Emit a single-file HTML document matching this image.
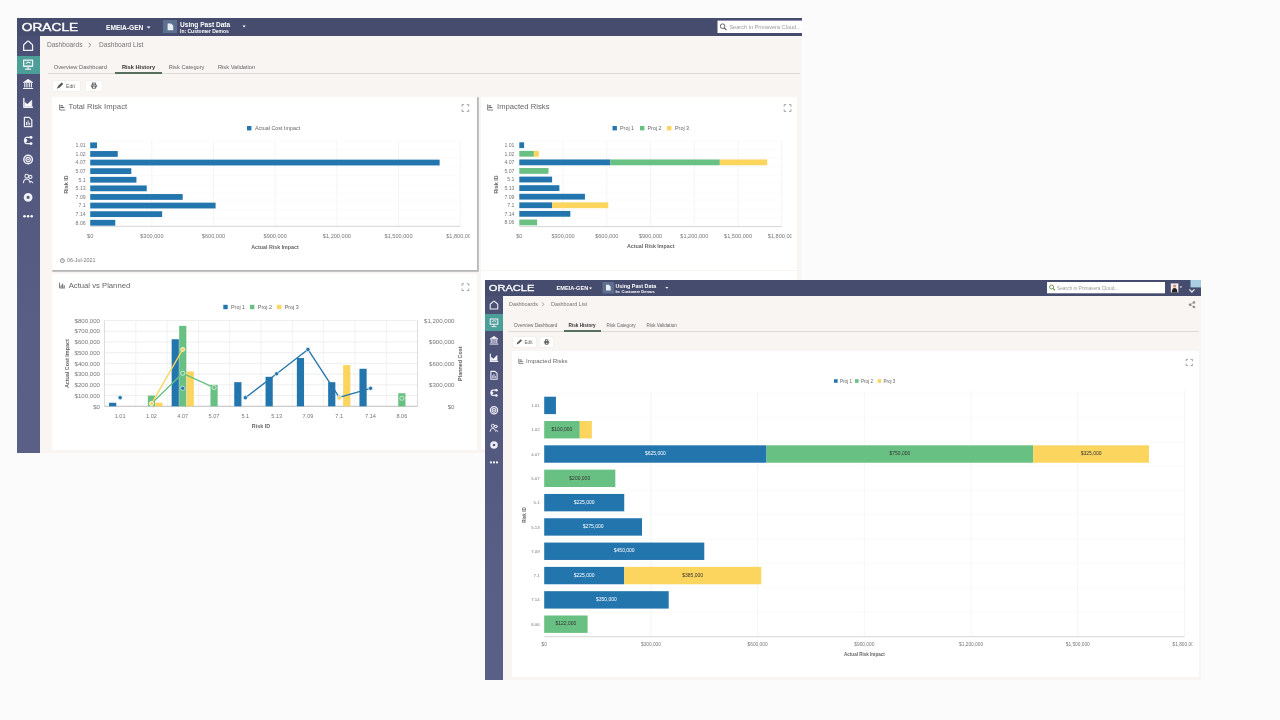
<!DOCTYPE html><html lang="en"><head><meta charset="utf-8"><title>Risk History Dashboards</title><style>
*{box-sizing:border-box;margin:0;padding:0}
html,body{width:1280px;height:720px;overflow:hidden;background:#fbfbfb;font-family:"Liberation Sans",sans-serif;}
.abs{position:absolute}
.win{position:absolute;overflow:hidden;background:#f8f5f2}
.hdr{position:absolute;left:0;top:0;right:0;background:#464c6d;color:#fff}
.side{position:absolute;left:0;bottom:0;background:linear-gradient(#4a5074,#52587d 30%,#585e84 70%,#595f85)}
.card{position:absolute;background:#fff}
.t{position:absolute;white-space:nowrap;line-height:1}
svg{position:absolute;left:0;top:0;overflow:visible}
svg text{font-family:"Liberation Sans",sans-serif}
.win>svg{filter:blur(0.35px)}
</style></head><body>
<div class="win" id="win1" style="left:17px;top:18px;width:785px;height:434.5px">
<div class="hdr" style="height:18.2px"></div>
<div class="side" style="top:18.2px;width:23px"><div class="abs" style="left:0;top:19.4px;width:23px;height:18.6px;background:#4c9f98"></div></div>
<div class="abs" style="left:31px;top:55.3px;width:752px;height:1px;background:#dedad6"></div>
<div class="abs" style="left:97.5px;top:54.4px;width:47.5px;height:2.1px;background:#56705b"></div>
<div class="abs" style="left:35.5px;top:62.6px;width:27.5px;height:10px;background:#fff;border-radius:1px;box-shadow:0 0 1px #ccc"></div>
<div class="abs" style="left:69px;top:62.6px;width:16px;height:10px;background:#fff;border-radius:1px;box-shadow:0 0 1px #ccc"></div>
<div class="card" style="left:35px;top:78.5px;width:425px;height:173px;box-shadow:1px 1px 0 0.8px #b7b7b7"></div>
<div class="card" style="left:464px;top:78.5px;width:316px;height:173.7px"></div>
<div class="card" style="left:35px;top:255.6px;width:424.5px;height:176.2px"></div>
<div class="card" style="left:464px;top:253.4px;width:316px;height:178px"></div>
<svg width="1280" height="720" viewBox="17 18 1280 720" style="left:0;top:0">
<text x="21.8" y="30.7" font-size="10.6" fill="#fff" stroke="#fff" stroke-width="0.35" textLength="56.4" lengthAdjust="spacingAndGlyphs">ORACLE</text>
<text x="106" y="29.78" font-size="6.6" fill="#fff" font-weight="bold" text-anchor="start" >EMEIA-GEN</text>
<path d="M146.6 26.4h4l-2 2.2z" fill="#fff"/>
<rect x="163" y="20" width="14" height="13" fill="#5d6f90" />
<path d="M167.6 23.4h3.4l2.2 2.2v4.6h-5.6z" fill="#e8edf3"/>
<text x="180" y="26.68" font-size="6.6" fill="#fff" font-weight="bold" text-anchor="start" >Using Past Data</text>
<text x="180" y="33" font-size="5" fill="#fff" font-weight="bold" text-anchor="start" >In: Customer Demos</text>
<path d="M242.4 25.6h3.4l-1.7 1.9z" fill="#fff"/>
<rect x="717.5" y="20.6" width="90" height="12.4" fill="#fff" />
<circle cx="722.6" cy="26.2" r="2.3" fill="none" stroke="#555" stroke-width="0.9"/><path d="M724.21 27.81L726.51 30.11" stroke="#555" stroke-width="1.1"/>
<text x="729.4" y="28.92" font-size="5.6" fill="#999" font-weight="normal" text-anchor="start" >Search in Primavera Cloud...</text>
<g transform="translate(28.1,45.7) scale(0.97)" fill="none" stroke="#f1f0f8" stroke-width="1.3" stroke-linejoin="round" stroke-linecap="round"><path d="M-4.6 -0.4 Q-4.6 -1 -4 -1.5 L-0.6 -4.5 Q0 -5 0.6 -4.5 L4 -1.5 Q4.6 -1 4.6 -0.4 V4.9 H-4.6 Z"/></g>
<g transform="translate(28.1,64.5) scale(0.97)" fill="none" stroke="#f1f0f8" stroke-width="1.3" stroke-linejoin="round" stroke-linecap="round"><rect x="-4.6" y="-4.6" width="9.2" height="6.4" /><path d="M0 1.8V4.6M-2.6 4.8H2.6M-2 -1.2L0 -2.6L2.2 -1.6" stroke-width="1.1"/></g>
<g transform="translate(28.1,84) scale(0.97)" fill="none" stroke="#f1f0f8" stroke-width="1.3" stroke-linejoin="round" stroke-linecap="round"><path d="M-4.6 -1.8L0 -4.8L4.6 -1.8Z" fill="#fff" stroke-width="0.8"/><path d="M-3.4 -0.6V3M-1.2 -0.6V3M1.2 -0.6V3M3.4 -0.6V3" stroke-width="1.2"/><path d="M-4.8 4.6H4.8" stroke-width="1.2"/></g>
<g transform="translate(28.1,103) scale(0.97)" fill="none" stroke="#f1f0f8" stroke-width="1.3" stroke-linejoin="round" stroke-linecap="round"><path d="M-4.4 -4.6V4.4H4.6" stroke-width="1.4"/><path d="M-3.4 3.4V-0.6L-0.6 1.4L3.8 -3V3.4Z" fill="#fff" stroke-width="0.6"/></g>
<g transform="translate(28.1,122) scale(0.97)" fill="none" stroke="#f1f0f8" stroke-width="1.3" stroke-linejoin="round" stroke-linecap="round"><path d="M-3.8 -4.8H1.2L3.8 -2.2V4.8H-3.8Z"/><path d="M-1.6 3V0.4M0 3V-1.2M1.6 3V1.2" stroke-width="1"/></g>
<g transform="translate(28.1,140.5) scale(0.97)" fill="none" stroke="#f1f0f8" stroke-width="1.3" stroke-linejoin="round" stroke-linecap="round"><circle cx="-2.6" cy="0" r="1.7" fill="#fff" stroke="none"/><circle cx="3" cy="-3.2" r="1.5" fill="#fff" stroke="none"/><circle cx="3" cy="3.2" r="1.5" fill="#fff" stroke="none"/><path d="M3 -3.2H-1.4Q-3.6 -3.2 -3.6 0Q-3.6 3.2 -1.4 3.2H3" stroke-width="1.4"/></g>
<g transform="translate(28.1,159.5) scale(0.97)" fill="none" stroke="#f1f0f8" stroke-width="1.3" stroke-linejoin="round" stroke-linecap="round"><circle r="4.4" stroke-width="1.5"/><circle r="2.3" stroke-width="1.3"/><circle r="0.9" fill="#fff" stroke="none"/></g>
<g transform="translate(28.1,178.5) scale(0.97)" fill="none" stroke="#f1f0f8" stroke-width="1.3" stroke-linejoin="round" stroke-linecap="round"><circle cx="-1.4" cy="-2.4" r="1.9" stroke-width="1.1"/><circle cx="2.4" cy="-1.6" r="1.6" stroke-width="1.1"/><path d="M-4.8 4.4Q-4.4 0.6 -1.4 0.6Q1 0.6 1.6 3.2M2 4.4Q2.4 1.2 4.8 4.4" stroke-width="1.1"/></g>
<g transform="translate(28.1,197.3) scale(0.97)" fill="none" stroke="#f1f0f8" stroke-width="1.3" stroke-linejoin="round" stroke-linecap="round"><circle r="3.1" stroke-width="2.9"/></g>
<g transform="translate(28.1,216.3) scale(0.97)" fill="none" stroke="#f1f0f8" stroke-width="1.3" stroke-linejoin="round" stroke-linecap="round"><circle cx="-3.7" r="1.3" fill="#fff" stroke="none"/><circle r="1.3" fill="#fff" stroke="none"/><circle cx="3.7" r="1.3" fill="#fff" stroke="none"/></g>
<text x="46.9" y="47.38" font-size="6.6" fill="#777" font-weight="normal" text-anchor="start" >Dashboards</text>
<path d="M88.6 42.8l2.2 2.2l-2.2 2.2" fill="none" stroke="#777" stroke-width="0.8"/>
<text x="99" y="47.38" font-size="6.6" fill="#777" font-weight="normal" text-anchor="start" >Dashboard List</text>
<text x="53.75" y="69.35" font-size="5.7" fill="#666" font-weight="normal" text-anchor="start" >Overview Dashboard</text>
<text x="121.9" y="69.35" font-size="5.7" fill="#333" font-weight="bold" text-anchor="start" >Risk History</text>
<text x="168.75" y="69.35" font-size="5.7" fill="#666" font-weight="normal" text-anchor="start" >Risk Category</text>
<text x="218" y="69.35" font-size="5.7" fill="#666" font-weight="normal" text-anchor="start" >Risk Validation</text>
<path d="M56.8 88.8L58.08 85.92L61.6 82.4L63.2 84L59.68 87.52Z" fill="#555"/>
<text x="66" y="87.67" font-size="5.2" fill="#666" font-weight="normal" text-anchor="start" >Edit</text>
<rect x="91.4" y="84.69" width="5.2" height="2.6" rx="0.8" fill="none" stroke="#555" stroke-width="0.9"/><rect x="92.57" y="83" width="2.86" height="1.82" fill="#fff" stroke="#555" stroke-width="0.8"/><rect x="92.57" y="86.12" width="2.86" height="2.08" fill="#fff" stroke="#555" stroke-width="0.8"/>
<path d="M59.6 104.4V110H65.2" fill="none" stroke="#666" stroke-width="0.8"/><rect x="60.4" y="105.24" width="2.52" height="1.12" fill="#666" /><rect x="60.4" y="106.92" width="3.92" height="1.12" fill="#666" />
<text x="68.6" y="108.77" font-size="7.7" fill="#666" font-weight="normal" text-anchor="start" >Total Risk Impact</text>
<path d="M462 106.64V104.6H464.04 M466.76 104.6H468.8V106.64 M468.8 109.36V111.4H466.76 M464.04 111.4H462V109.36" fill="none" stroke="#999" stroke-width="0.9"/>
<rect x="247" y="126" width="4.4" height="4.4" fill="#2375ae" />
<text x="255" y="130.14" font-size="5.4" fill="#666" font-weight="normal" text-anchor="start" >Actual Cost Impact</text>
<line x1="90.2" y1="141.05" x2="460.2" y2="141.05" stroke="#f8f8f8" stroke-width="0.6" />
<line x1="90.2" y1="149.65" x2="460.2" y2="149.65" stroke="#f8f8f8" stroke-width="0.6" />
<line x1="90.2" y1="158.25" x2="460.2" y2="158.25" stroke="#f8f8f8" stroke-width="0.6" />
<line x1="90.2" y1="166.85" x2="460.2" y2="166.85" stroke="#f8f8f8" stroke-width="0.6" />
<line x1="90.2" y1="175.45" x2="460.2" y2="175.45" stroke="#f8f8f8" stroke-width="0.6" />
<line x1="90.2" y1="184.05" x2="460.2" y2="184.05" stroke="#f8f8f8" stroke-width="0.6" />
<line x1="90.2" y1="192.65" x2="460.2" y2="192.65" stroke="#f8f8f8" stroke-width="0.6" />
<line x1="90.2" y1="201.25" x2="460.2" y2="201.25" stroke="#f8f8f8" stroke-width="0.6" />
<line x1="90.2" y1="209.85" x2="460.2" y2="209.85" stroke="#f8f8f8" stroke-width="0.6" />
<line x1="90.2" y1="218.45" x2="460.2" y2="218.45" stroke="#f8f8f8" stroke-width="0.6" />
<line x1="151.87" y1="141.05" x2="151.87" y2="226.3" stroke="#f0f0f0" stroke-width="0.7" />
<line x1="213.53" y1="141.05" x2="213.53" y2="226.3" stroke="#f0f0f0" stroke-width="0.7" />
<line x1="275.2" y1="141.05" x2="275.2" y2="226.3" stroke="#f0f0f0" stroke-width="0.7" />
<line x1="336.87" y1="141.05" x2="336.87" y2="226.3" stroke="#f0f0f0" stroke-width="0.7" />
<line x1="398.53" y1="141.05" x2="398.53" y2="226.3" stroke="#f0f0f0" stroke-width="0.7" />
<line x1="460.2" y1="141.05" x2="460.2" y2="226.3" stroke="#f0f0f0" stroke-width="0.7" />
<line x1="90.2" y1="226.3" x2="460.2" y2="226.3" stroke="#c9c9c9" stroke-width="0.8" />
<rect x="90.2" y="142.45" width="6.78" height="5.8" fill="#2375ae" />
<text x="85.7" y="147.22" font-size="5.2" fill="#777" font-weight="normal" text-anchor="end" >1.01</text>
<rect x="90.2" y="151.05" width="27.54" height="5.8" fill="#2375ae" />
<text x="85.7" y="155.82" font-size="5.2" fill="#777" font-weight="normal" text-anchor="end" >1.02</text>
<rect x="90.2" y="159.65" width="349.44" height="5.8" fill="#2375ae" />
<text x="85.7" y="164.42" font-size="5.2" fill="#777" font-weight="normal" text-anchor="end" >4.07</text>
<rect x="90.2" y="168.25" width="41.11" height="5.8" fill="#2375ae" />
<text x="85.7" y="173.02" font-size="5.2" fill="#777" font-weight="normal" text-anchor="end" >5.07</text>
<rect x="90.2" y="176.85" width="46.25" height="5.8" fill="#2375ae" />
<text x="85.7" y="181.62" font-size="5.2" fill="#777" font-weight="normal" text-anchor="end" >5.1</text>
<rect x="90.2" y="185.45" width="56.53" height="5.8" fill="#2375ae" />
<text x="85.7" y="190.22" font-size="5.2" fill="#777" font-weight="normal" text-anchor="end" >5.13</text>
<rect x="90.2" y="194.05" width="92.5" height="5.8" fill="#2375ae" />
<text x="85.7" y="198.82" font-size="5.2" fill="#777" font-weight="normal" text-anchor="end" >7.09</text>
<rect x="90.2" y="202.65" width="125.39" height="5.8" fill="#2375ae" />
<text x="85.7" y="207.42" font-size="5.2" fill="#777" font-weight="normal" text-anchor="end" >7.1</text>
<rect x="90.2" y="211.25" width="71.94" height="5.8" fill="#2375ae" />
<text x="85.7" y="216.02" font-size="5.2" fill="#777" font-weight="normal" text-anchor="end" >7.14</text>
<rect x="90.2" y="219.85" width="25.08" height="5.8" fill="#2375ae" />
<text x="85.7" y="224.62" font-size="5.2" fill="#777" font-weight="normal" text-anchor="end" >8.06</text>
<clipPath id="c90"><rect x="0" y="0" width="470.2" height="720"/></clipPath>
<g clip-path="url(#c90)">
<text x="90.2" y="238.32" font-size="5.6" fill="#777" font-weight="normal" text-anchor="middle" >$0</text>
<text x="151.87" y="238.32" font-size="5.6" fill="#777" font-weight="normal" text-anchor="middle" >$300,000</text>
<text x="213.53" y="238.32" font-size="5.6" fill="#777" font-weight="normal" text-anchor="middle" >$600,000</text>
<text x="275.2" y="238.32" font-size="5.6" fill="#777" font-weight="normal" text-anchor="middle" >$900,000</text>
<text x="336.87" y="238.32" font-size="5.6" fill="#777" font-weight="normal" text-anchor="middle" >$1,200,000</text>
<text x="398.53" y="238.32" font-size="5.6" fill="#777" font-weight="normal" text-anchor="middle" >$1,500,000</text>
<text x="460.2" y="238.32" font-size="5.6" fill="#777" font-weight="normal" text-anchor="middle" >$1,800,000</text>
</g>
<text x="275" y="248.52" font-size="5.32" fill="#666" font-weight="bold" text-anchor="middle" >Actual Risk Impact</text>
<text transform="translate(66,184.5) rotate(-90)" y="1.92" font-size="5.32" fill="#666" font-weight="bold" text-anchor="middle">Risk ID</text>
<circle cx="62.4" cy="260.6" r="2" fill="none" stroke="#666" stroke-width="0.7"/><path d="M62.4 259.4v1.3h1" fill="none" stroke="#666" stroke-width="0.5"/>
<text x="67" y="261.94" font-size="5.4" fill="#777" font-weight="normal" text-anchor="start" >06-Jul-2021</text>
<path d="M487.6 104.4V110H493.2" fill="none" stroke="#666" stroke-width="0.8"/><rect x="488.4" y="105.24" width="2.52" height="1.12" fill="#666" /><rect x="488.4" y="106.92" width="3.92" height="1.12" fill="#666" />
<text x="497" y="108.97" font-size="7.7" fill="#666" font-weight="normal" text-anchor="start" >Impacted Risks</text>
<path d="M784.2 106.64V104.6H786.24 M788.96 104.6H791V106.64 M791 109.36V111.4H788.96 M786.24 111.4H784.2V109.36" fill="none" stroke="#999" stroke-width="0.9"/>
<rect x="612.5" y="126" width="4.4" height="4.4" fill="#2375ae" />
<text x="620" y="130.14" font-size="5.4" fill="#666" font-weight="normal" text-anchor="start" >Proj 1</text>
<rect x="640" y="126" width="4.4" height="4.4" fill="#69c083" />
<text x="647.5" y="130.14" font-size="5.4" fill="#666" font-weight="normal" text-anchor="start" >Proj 2</text>
<rect x="667" y="126" width="4.4" height="4.4" fill="#fbd55d" />
<text x="675" y="130.14" font-size="5.4" fill="#666" font-weight="normal" text-anchor="start" >Proj 3</text>
<line x1="519.3" y1="140.91" x2="781.8" y2="140.91" stroke="#f8f8f8" stroke-width="0.6" />
<line x1="519.3" y1="149.49" x2="781.8" y2="149.49" stroke="#f8f8f8" stroke-width="0.6" />
<line x1="519.3" y1="158.07" x2="781.8" y2="158.07" stroke="#f8f8f8" stroke-width="0.6" />
<line x1="519.3" y1="166.65" x2="781.8" y2="166.65" stroke="#f8f8f8" stroke-width="0.6" />
<line x1="519.3" y1="175.23" x2="781.8" y2="175.23" stroke="#f8f8f8" stroke-width="0.6" />
<line x1="519.3" y1="183.81" x2="781.8" y2="183.81" stroke="#f8f8f8" stroke-width="0.6" />
<line x1="519.3" y1="192.39" x2="781.8" y2="192.39" stroke="#f8f8f8" stroke-width="0.6" />
<line x1="519.3" y1="200.97" x2="781.8" y2="200.97" stroke="#f8f8f8" stroke-width="0.6" />
<line x1="519.3" y1="209.55" x2="781.8" y2="209.55" stroke="#f8f8f8" stroke-width="0.6" />
<line x1="519.3" y1="218.13" x2="781.8" y2="218.13" stroke="#f8f8f8" stroke-width="0.6" />
<line x1="563.05" y1="140.91" x2="563.05" y2="226.6" stroke="#f0f0f0" stroke-width="0.7" />
<line x1="606.8" y1="140.91" x2="606.8" y2="226.6" stroke="#f0f0f0" stroke-width="0.7" />
<line x1="650.55" y1="140.91" x2="650.55" y2="226.6" stroke="#f0f0f0" stroke-width="0.7" />
<line x1="694.3" y1="140.91" x2="694.3" y2="226.6" stroke="#f0f0f0" stroke-width="0.7" />
<line x1="738.05" y1="140.91" x2="738.05" y2="226.6" stroke="#f0f0f0" stroke-width="0.7" />
<line x1="781.8" y1="140.91" x2="781.8" y2="226.6" stroke="#f0f0f0" stroke-width="0.7" />
<line x1="519.3" y1="226.6" x2="781.8" y2="226.6" stroke="#c9c9c9" stroke-width="0.8" />
<rect x="519.3" y="142.3" width="4.81" height="5.8" fill="#2375ae" />
<text x="514.5" y="147.07" font-size="5.2" fill="#777" font-weight="normal" text-anchor="end" >1.01</text>
<rect x="519.3" y="150.88" width="14.58" height="5.8" fill="#69c083" />
<rect x="533.88" y="150.88" width="4.96" height="5.8" fill="#fbd55d" />
<text x="514.5" y="155.65" font-size="5.2" fill="#777" font-weight="normal" text-anchor="end" >1.02</text>
<rect x="519.3" y="159.46" width="91.15" height="5.8" fill="#2375ae" />
<rect x="610.45" y="159.46" width="109.38" height="5.8" fill="#69c083" />
<rect x="719.82" y="159.46" width="47.4" height="5.8" fill="#fbd55d" />
<text x="514.5" y="164.23" font-size="5.2" fill="#777" font-weight="normal" text-anchor="end" >4.07</text>
<rect x="519.3" y="168.04" width="29.17" height="5.8" fill="#69c083" />
<text x="514.5" y="172.81" font-size="5.2" fill="#777" font-weight="normal" text-anchor="end" >5.07</text>
<rect x="519.3" y="176.62" width="32.81" height="5.8" fill="#2375ae" />
<text x="514.5" y="181.39" font-size="5.2" fill="#777" font-weight="normal" text-anchor="end" >5.1</text>
<rect x="519.3" y="185.2" width="40.1" height="5.8" fill="#2375ae" />
<text x="514.5" y="189.97" font-size="5.2" fill="#777" font-weight="normal" text-anchor="end" >5.13</text>
<rect x="519.3" y="193.78" width="65.62" height="5.8" fill="#2375ae" />
<text x="514.5" y="198.55" font-size="5.2" fill="#777" font-weight="normal" text-anchor="end" >7.09</text>
<rect x="519.3" y="202.36" width="32.81" height="5.8" fill="#2375ae" />
<rect x="552.11" y="202.36" width="56.15" height="5.8" fill="#fbd55d" />
<text x="514.5" y="207.13" font-size="5.2" fill="#777" font-weight="normal" text-anchor="end" >7.1</text>
<rect x="519.3" y="210.94" width="51.04" height="5.8" fill="#2375ae" />
<text x="514.5" y="215.71" font-size="5.2" fill="#777" font-weight="normal" text-anchor="end" >7.14</text>
<rect x="519.3" y="219.52" width="17.79" height="5.8" fill="#69c083" />
<text x="514.5" y="224.29" font-size="5.2" fill="#777" font-weight="normal" text-anchor="end" >8.06</text>
<clipPath id="c519"><rect x="0" y="0" width="791.5" height="720"/></clipPath>
<g clip-path="url(#c519)">
<text x="519.3" y="237.82" font-size="5.6" fill="#777" font-weight="normal" text-anchor="middle" >$0</text>
<text x="563.05" y="237.82" font-size="5.6" fill="#777" font-weight="normal" text-anchor="middle" >$300,000</text>
<text x="606.8" y="237.82" font-size="5.6" fill="#777" font-weight="normal" text-anchor="middle" >$600,000</text>
<text x="650.55" y="237.82" font-size="5.6" fill="#777" font-weight="normal" text-anchor="middle" >$900,000</text>
<text x="694.3" y="237.82" font-size="5.6" fill="#777" font-weight="normal" text-anchor="middle" >$1,200,000</text>
<text x="738.05" y="237.82" font-size="5.6" fill="#777" font-weight="normal" text-anchor="middle" >$1,500,000</text>
<text x="781.8" y="237.82" font-size="5.6" fill="#777" font-weight="normal" text-anchor="middle" >$1,800,000</text>
</g>
<text x="650.7" y="248.42" font-size="5.32" fill="#666" font-weight="bold" text-anchor="middle" >Actual Risk Impact</text>
<text transform="translate(496,184.5) rotate(-90)" y="1.92" font-size="5.32" fill="#666" font-weight="bold" text-anchor="middle">Risk ID</text>
<path d="M59.5 282.5V288H65" fill="none" stroke="#666" stroke-width="0.8"/><rect x="60.6" y="284.98" width="0.99" height="2.75" fill="#666" /><rect x="62.14" y="283.6" width="0.99" height="4.12" fill="#666" /><rect x="63.68" y="285.25" width="0.99" height="2.48" fill="#666" />
<text x="68.7" y="288.37" font-size="7.7" fill="#666" font-weight="normal" text-anchor="start" >Actual vs Planned</text>
<path d="M462 285.84V283.8H464.04 M466.76 283.8H468.8V285.84 M468.8 288.56V290.6H466.76 M464.04 290.6H462V288.56" fill="none" stroke="#999" stroke-width="0.9"/>
<rect x="223.3" y="304.8" width="4.4" height="4.4" fill="#2375ae" />
<text x="231" y="308.94" font-size="5.4" fill="#666" font-weight="normal" text-anchor="start" >Proj 1</text>
<rect x="250" y="304.8" width="4.4" height="4.4" fill="#69c083" />
<text x="257.8" y="308.94" font-size="5.4" fill="#666" font-weight="normal" text-anchor="start" >Proj 2</text>
<rect x="277" y="304.8" width="4.4" height="4.4" fill="#fbd55d" />
<text x="284.7" y="308.94" font-size="5.4" fill="#666" font-weight="normal" text-anchor="start" >Proj 3</text>
<line x1="104.5" y1="406.3" x2="417.5" y2="406.3" stroke="#e6e6e6" stroke-width="0.7" />
<text x="100" y="408.5" font-size="6.1" fill="#777" font-weight="normal" text-anchor="end" >$0</text>
<line x1="104.5" y1="395.57" x2="417.5" y2="395.57" stroke="#e6e6e6" stroke-width="0.7" />
<text x="100" y="397.77" font-size="6.1" fill="#777" font-weight="normal" text-anchor="end" >$100,000</text>
<line x1="104.5" y1="384.85" x2="417.5" y2="384.85" stroke="#e6e6e6" stroke-width="0.7" />
<text x="100" y="387.05" font-size="6.1" fill="#777" font-weight="normal" text-anchor="end" >$200,000</text>
<line x1="104.5" y1="374.12" x2="417.5" y2="374.12" stroke="#e6e6e6" stroke-width="0.7" />
<text x="100" y="376.32" font-size="6.1" fill="#777" font-weight="normal" text-anchor="end" >$300,000</text>
<line x1="104.5" y1="363.4" x2="417.5" y2="363.4" stroke="#e6e6e6" stroke-width="0.7" />
<text x="100" y="365.6" font-size="6.1" fill="#777" font-weight="normal" text-anchor="end" >$400,000</text>
<line x1="104.5" y1="352.68" x2="417.5" y2="352.68" stroke="#e6e6e6" stroke-width="0.7" />
<text x="100" y="354.87" font-size="6.1" fill="#777" font-weight="normal" text-anchor="end" >$500,000</text>
<line x1="104.5" y1="341.95" x2="417.5" y2="341.95" stroke="#e6e6e6" stroke-width="0.7" />
<text x="100" y="344.15" font-size="6.1" fill="#777" font-weight="normal" text-anchor="end" >$600,000</text>
<line x1="104.5" y1="331.23" x2="417.5" y2="331.23" stroke="#e6e6e6" stroke-width="0.7" />
<text x="100" y="333.42" font-size="6.1" fill="#777" font-weight="normal" text-anchor="end" >$700,000</text>
<line x1="104.5" y1="320.5" x2="417.5" y2="320.5" stroke="#e6e6e6" stroke-width="0.7" />
<text x="100" y="322.7" font-size="6.1" fill="#777" font-weight="normal" text-anchor="end" >$800,000</text>
<text x="454.5" y="408.5" font-size="6.1" fill="#777" font-weight="normal" text-anchor="end" >$0</text>
<text x="454.5" y="387.05" font-size="6.1" fill="#777" font-weight="normal" text-anchor="end" >$300,000</text>
<text x="454.5" y="365.6" font-size="6.1" fill="#777" font-weight="normal" text-anchor="end" >$600,000</text>
<text x="454.5" y="344.15" font-size="6.1" fill="#777" font-weight="normal" text-anchor="end" >$900,000</text>
<text x="454.5" y="322.7" font-size="6.1" fill="#777" font-weight="normal" text-anchor="end" >$1,200,000</text>
<line x1="104.5" y1="320.5" x2="104.5" y2="406.3" stroke="#cfcfcf" stroke-width="0.7" />
<line x1="135.8" y1="320.5" x2="135.8" y2="406.3" stroke="#ececec" stroke-width="0.7" />
<line x1="167.1" y1="320.5" x2="167.1" y2="406.3" stroke="#ececec" stroke-width="0.7" />
<line x1="198.4" y1="320.5" x2="198.4" y2="406.3" stroke="#ececec" stroke-width="0.7" />
<line x1="229.7" y1="320.5" x2="229.7" y2="406.3" stroke="#ececec" stroke-width="0.7" />
<line x1="261" y1="320.5" x2="261" y2="406.3" stroke="#ececec" stroke-width="0.7" />
<line x1="292.3" y1="320.5" x2="292.3" y2="406.3" stroke="#ececec" stroke-width="0.7" />
<line x1="323.6" y1="320.5" x2="323.6" y2="406.3" stroke="#ececec" stroke-width="0.7" />
<line x1="354.9" y1="320.5" x2="354.9" y2="406.3" stroke="#ececec" stroke-width="0.7" />
<line x1="386.2" y1="320.5" x2="386.2" y2="406.3" stroke="#ececec" stroke-width="0.7" />
<line x1="417.5" y1="320.5" x2="417.5" y2="406.3" stroke="#cfcfcf" stroke-width="0.7" />
<line x1="104.5" y1="406.3" x2="417.5" y2="406.3" stroke="#bdbdbd" stroke-width="0.9" />
<rect x="109.05" y="402.76" width="7.2" height="3.54" fill="#2375ae" />
<text x="120.15" y="417.52" font-size="5.6" fill="#777" font-weight="normal" text-anchor="middle" >1.01</text>
<rect x="147.85" y="395.57" width="7.2" height="10.73" fill="#69c083" />
<rect x="155.35" y="402.65" width="7.2" height="3.65" fill="#fbd55d" />
<text x="151.45" y="417.52" font-size="5.6" fill="#777" font-weight="normal" text-anchor="middle" >1.02</text>
<rect x="171.65" y="339.27" width="7.2" height="67.03" fill="#2375ae" />
<rect x="179.15" y="325.86" width="7.2" height="80.44" fill="#69c083" />
<rect x="186.65" y="371.44" width="7.2" height="34.86" fill="#fbd55d" />
<text x="182.75" y="417.52" font-size="5.6" fill="#777" font-weight="normal" text-anchor="middle" >4.07</text>
<rect x="210.45" y="384.85" width="7.2" height="21.45" fill="#69c083" />
<text x="214.05" y="417.52" font-size="5.6" fill="#777" font-weight="normal" text-anchor="middle" >5.07</text>
<rect x="234.25" y="382.17" width="7.2" height="24.13" fill="#2375ae" />
<text x="245.35" y="417.52" font-size="5.6" fill="#777" font-weight="normal" text-anchor="middle" >5.1</text>
<rect x="265.55" y="376.81" width="7.2" height="29.49" fill="#2375ae" />
<text x="276.65" y="417.52" font-size="5.6" fill="#777" font-weight="normal" text-anchor="middle" >5.13</text>
<rect x="296.85" y="358.04" width="7.2" height="48.26" fill="#2375ae" />
<text x="307.95" y="417.52" font-size="5.6" fill="#777" font-weight="normal" text-anchor="middle" >7.09</text>
<rect x="328.15" y="382.17" width="7.2" height="24.13" fill="#2375ae" />
<rect x="343.15" y="365.01" width="7.2" height="41.29" fill="#fbd55d" />
<text x="339.25" y="417.52" font-size="5.6" fill="#777" font-weight="normal" text-anchor="middle" >7.1</text>
<rect x="359.45" y="368.76" width="7.2" height="37.54" fill="#2375ae" />
<text x="370.55" y="417.52" font-size="5.6" fill="#777" font-weight="normal" text-anchor="middle" >7.14</text>
<rect x="398.25" y="393.22" width="7.2" height="13.08" fill="#69c083" />
<text x="401.85" y="417.52" font-size="5.6" fill="#777" font-weight="normal" text-anchor="middle" >8.06</text>
<polyline points="151.45,403.44 182.75,373.27 214.05,387.57" fill="none" stroke="#69c083" stroke-width="1.35" stroke-linejoin="round"/>
<polyline points="151.45,403.8 182.75,349.46" fill="none" stroke="#fbd55d" stroke-width="1.35" stroke-linejoin="round"/>
<polyline points="245.35,397.72 276.65,373.77 307.95,349.46 339.25,397.36 370.55,388.28" fill="none" stroke="#2375ae" stroke-width="1.35" stroke-linejoin="round"/>
<circle cx="120.15" cy="397.72" r="2.1" fill="#2375ae" stroke="#fff" stroke-width="0.6"/><circle cx="182.75" cy="388.28" r="2.1" fill="#2375ae" stroke="#fff" stroke-width="0.6"/><circle cx="245.35" cy="397.72" r="2.1" fill="#2375ae" stroke="#fff" stroke-width="0.6"/><circle cx="276.65" cy="373.77" r="2.1" fill="#2375ae" stroke="#fff" stroke-width="0.6"/><circle cx="307.95" cy="349.46" r="2.1" fill="#2375ae" stroke="#fff" stroke-width="0.6"/><circle cx="339.25" cy="397.36" r="2.1" fill="#2375ae" stroke="#fff" stroke-width="0.6"/><circle cx="370.55" cy="388.28" r="2.1" fill="#2375ae" stroke="#fff" stroke-width="0.6"/>
<circle cx="151.45" cy="403.44" r="2.1" fill="#69c083" stroke="#fff" stroke-width="0.6"/><circle cx="182.75" cy="373.27" r="2.1" fill="#69c083" stroke="#fff" stroke-width="0.6"/><circle cx="214.05" cy="387.57" r="2.1" fill="#69c083" stroke="#fff" stroke-width="0.6"/><circle cx="401.85" cy="398.29" r="2.1" fill="#69c083" stroke="#fff" stroke-width="0.6"/>
<circle cx="151.45" cy="403.8" r="2.1" fill="#fbd55d" stroke="#fff" stroke-width="0.6"/><circle cx="182.75" cy="349.46" r="2.1" fill="#fbd55d" stroke="#fff" stroke-width="0.6"/><circle cx="339.25" cy="398.08" r="2.1" fill="#fbd55d" stroke="#fff" stroke-width="0.6"/>
<text x="261" y="427.74" font-size="5.4" fill="#666" font-weight="bold" text-anchor="middle" >Risk ID</text>
<text transform="translate(67,363.7) rotate(-90)" y="1.94" font-size="5.4" fill="#666" font-weight="bold" text-anchor="middle">Actual Cost Impact</text>
<text transform="translate(460.5,363.7) rotate(-90)" y="1.94" font-size="5.4" fill="#666" font-weight="bold" text-anchor="middle">Planned Cost</text>
</svg>
</div>
<div class="win" id="win2" style="left:485px;top:280px;width:716px;height:399.5px">
<div class="hdr" style="height:16.4px"></div>
<div class="side" style="top:16.2px;width:18px"><div class="abs" style="left:0;top:18.2px;width:18px;height:16.8px;background:#4c9f98"></div></div>
<div class="abs" style="left:23px;top:51.4px;width:691px;height:1px;background:#dedad6"></div>
<div class="abs" style="left:78.5px;top:50.3px;width:37.5px;height:2.1px;background:#56705b"></div>
<div class="abs" style="left:27.8px;top:56.8px;width:23.4px;height:10.2px;background:#fff;border-radius:1px;box-shadow:0 0 1px #ccc"></div>
<div class="abs" style="left:55px;top:56.8px;width:13.4px;height:10.2px;background:#fff;border-radius:1px;box-shadow:0 0 1px #ccc"></div>
<div class="card" style="left:27px;top:70.8px;width:687px;height:326px"></div>
<svg width="1280" height="720" viewBox="485 280 1280 720" style="left:0;top:0">
<text x="488.8" y="291.3" font-size="9.4" fill="#fff" stroke="#fff" stroke-width="0.3" textLength="45.6" lengthAdjust="spacingAndGlyphs">ORACLE</text>
<text x="556.5" y="290.32" font-size="5.6" fill="#fff" font-weight="bold" text-anchor="start" >EMEIA-GEN</text>
<path d="M589 287.4h3.2l-1.6 1.8z" fill="#fff"/>
<rect x="602.5" y="282" width="11.5" height="11.5" fill="#5d6f90" />
<path d="M606 284.8h2.8l1.9 1.9v3.9h-4.7z" fill="#e8edf3"/>
<text x="615.5" y="287.53" font-size="5.35" fill="#fff" font-weight="bold" text-anchor="start" >Using Past Data</text>
<text x="615.5" y="292.94" font-size="4" fill="#fff" font-weight="bold" text-anchor="start" >In: Customer Demos</text>
<path d="M665.4 287h3l-1.5 1.7z" fill="#fff"/>
<rect x="1047" y="282" width="118" height="11.3" fill="#fff" />
<circle cx="1051.6" cy="287" r="2" fill="none" stroke="#6a8a4a" stroke-width="0.9"/><path d="M1053 288.4L1055 290.4" stroke="#6a8a4a" stroke-width="1.1"/>
<text x="1057" y="289.53" font-size="4.8" fill="#999" font-weight="normal" text-anchor="start" >Search in Primavera Cloud...</text>
<rect x="1170.8" y="283.4" width="7.6" height="9.1" fill="#f3ece8" />
<circle cx="1174.6" cy="286" r="1.5" fill="#c98f7d"/><path d="M1171.8 292.5q0.2 -4.4 2.8 -4.4q2.6 0 2.8 4.4z" fill="#222"/>
<path d="M1179.6 286.6h2.6l-1.3 1.5z" fill="#fff"/>
<rect x="1190.5" y="280" width="10.5" height="7.4" fill="#a9cde2" />
<path d="M1189.3 289.4l2.6 2.6l2.6 -2.6" fill="none" stroke="#e6e6ee" stroke-width="1.3"/>
<g fill="#888" stroke="#888" stroke-width="0.6"><circle cx="1194" cy="302.4" r="1"/><circle cx="1190" cy="304.7" r="1"/><circle cx="1194" cy="307" r="1"/><path d="M1194 302.4L1190 304.7L1194 307" fill="none"/></g>
<g transform="translate(494,305) scale(0.82)" fill="none" stroke="#f1f0f8" stroke-width="1.3" stroke-linejoin="round" stroke-linecap="round"><path d="M-4.6 -0.4 Q-4.6 -1 -4 -1.5 L-0.6 -4.5 Q0 -5 0.6 -4.5 L4 -1.5 Q4.6 -1 4.6 -0.4 V4.9 H-4.6 Z"/></g>
<g transform="translate(494,322.7) scale(0.82)" fill="none" stroke="#f1f0f8" stroke-width="1.3" stroke-linejoin="round" stroke-linecap="round"><rect x="-4.6" y="-4.6" width="9.2" height="6.4" /><path d="M0 1.8V4.6M-2.6 4.8H2.6M-2 -1.2L0 -2.6L2.2 -1.6" stroke-width="1.1"/></g>
<g transform="translate(494,340.3) scale(0.82)" fill="none" stroke="#f1f0f8" stroke-width="1.3" stroke-linejoin="round" stroke-linecap="round"><path d="M-4.6 -1.8L0 -4.8L4.6 -1.8Z" fill="#fff" stroke-width="0.8"/><path d="M-3.4 -0.6V3M-1.2 -0.6V3M1.2 -0.6V3M3.4 -0.6V3" stroke-width="1.2"/><path d="M-4.8 4.6H4.8" stroke-width="1.2"/></g>
<g transform="translate(494,357.8) scale(0.82)" fill="none" stroke="#f1f0f8" stroke-width="1.3" stroke-linejoin="round" stroke-linecap="round"><path d="M-4.4 -4.6V4.4H4.6" stroke-width="1.4"/><path d="M-3.4 3.4V-0.6L-0.6 1.4L3.8 -3V3.4Z" fill="#fff" stroke-width="0.6"/></g>
<g transform="translate(494,375.3) scale(0.82)" fill="none" stroke="#f1f0f8" stroke-width="1.3" stroke-linejoin="round" stroke-linecap="round"><path d="M-3.8 -4.8H1.2L3.8 -2.2V4.8H-3.8Z"/><path d="M-1.6 3V0.4M0 3V-1.2M1.6 3V1.2" stroke-width="1"/></g>
<g transform="translate(494,392.8) scale(0.82)" fill="none" stroke="#f1f0f8" stroke-width="1.3" stroke-linejoin="round" stroke-linecap="round"><circle cx="-2.6" cy="0" r="1.7" fill="#fff" stroke="none"/><circle cx="3" cy="-3.2" r="1.5" fill="#fff" stroke="none"/><circle cx="3" cy="3.2" r="1.5" fill="#fff" stroke="none"/><path d="M3 -3.2H-1.4Q-3.6 -3.2 -3.6 0Q-3.6 3.2 -1.4 3.2H3" stroke-width="1.4"/></g>
<g transform="translate(494,410.3) scale(0.82)" fill="none" stroke="#f1f0f8" stroke-width="1.3" stroke-linejoin="round" stroke-linecap="round"><circle r="4.4" stroke-width="1.5"/><circle r="2.3" stroke-width="1.3"/><circle r="0.9" fill="#fff" stroke="none"/></g>
<g transform="translate(494,427.8) scale(0.82)" fill="none" stroke="#f1f0f8" stroke-width="1.3" stroke-linejoin="round" stroke-linecap="round"><circle cx="-1.4" cy="-2.4" r="1.9" stroke-width="1.1"/><circle cx="2.4" cy="-1.6" r="1.6" stroke-width="1.1"/><path d="M-4.8 4.4Q-4.4 0.6 -1.4 0.6Q1 0.6 1.6 3.2M2 4.4Q2.4 1.2 4.8 4.4" stroke-width="1.1"/></g>
<g transform="translate(494,445) scale(0.82)" fill="none" stroke="#f1f0f8" stroke-width="1.3" stroke-linejoin="round" stroke-linecap="round"><circle r="3.1" stroke-width="2.9"/></g>
<g transform="translate(494,462.4) scale(0.82)" fill="none" stroke="#f1f0f8" stroke-width="1.3" stroke-linejoin="round" stroke-linecap="round"><circle cx="-3.7" r="1.3" fill="#fff" stroke="none"/><circle r="1.3" fill="#fff" stroke="none"/><circle cx="3.7" r="1.3" fill="#fff" stroke="none"/></g>
<text x="509" y="306.24" font-size="5.4" fill="#777" font-weight="normal" text-anchor="start" >Dashboards</text>
<path d="M542 302.4l1.8 1.9l-1.8 1.9" fill="none" stroke="#777" stroke-width="0.7"/>
<text x="551" y="306.24" font-size="5.4" fill="#777" font-weight="normal" text-anchor="start" >Dashboard List</text>
<text x="514" y="326.87" font-size="4.65" fill="#666" font-weight="normal" text-anchor="start" >Overview Dashboard</text>
<text x="568.6" y="326.87" font-size="4.65" fill="#333" font-weight="bold" text-anchor="start" >Risk History</text>
<text x="606.5" y="326.87" font-size="4.65" fill="#666" font-weight="normal" text-anchor="start" >Risk Category</text>
<text x="646.5" y="326.87" font-size="4.65" fill="#666" font-weight="normal" text-anchor="start" >Risk Validation</text>
<path d="M516.6 344.6L517.68 342.17L520.65 339.2L522 340.55L519.03 343.52Z" fill="#555"/>
<text x="524.5" y="344.06" font-size="4.6" fill="#666" font-weight="normal" text-anchor="start" >Edit</text>
<rect x="544.4" y="341.23" width="4.4" height="2.2" rx="0.8" fill="none" stroke="#555" stroke-width="0.9"/><rect x="545.39" y="339.8" width="2.42" height="1.54" fill="#fff" stroke="#555" stroke-width="0.8"/><rect x="545.39" y="342.44" width="2.42" height="1.76" fill="#fff" stroke="#555" stroke-width="0.8"/>
<path d="M518.8 358.8V363.4H523.4" fill="none" stroke="#666" stroke-width="0.8"/><rect x="519.6" y="359.49" width="2.07" height="0.92" fill="#666" /><rect x="519.6" y="360.87" width="3.22" height="0.92" fill="#666" />
<text x="526" y="363.2" font-size="6.1" fill="#666" font-weight="normal" text-anchor="start" >Impacted Risks</text>
<path d="M1186.2 361.26V359.4H1188.06 M1190.54 359.4H1192.4V361.26 M1192.4 363.74V365.6H1190.54 M1188.06 365.6H1186.2V363.74" fill="none" stroke="#999" stroke-width="0.9"/>
<rect x="834" y="379.2" width="3.6" height="3.6" fill="#2375ae" />
<text x="840" y="382.66" font-size="4.6" fill="#666" font-weight="normal" text-anchor="start" >Proj 1</text>
<rect x="855" y="379.2" width="3.6" height="3.6" fill="#69c083" />
<text x="861" y="382.66" font-size="4.6" fill="#666" font-weight="normal" text-anchor="start" >Proj 2</text>
<rect x="877.6" y="379.2" width="3.6" height="3.6" fill="#fbd55d" />
<text x="883.4" y="382.66" font-size="4.6" fill="#666" font-weight="normal" text-anchor="start" >Proj 3</text>
<line x1="544.2" y1="393.25" x2="1184.5" y2="393.25" stroke="#f8f8f8" stroke-width="0.6" />
<line x1="544.2" y1="417.56" x2="1184.5" y2="417.56" stroke="#f8f8f8" stroke-width="0.6" />
<line x1="544.2" y1="441.87" x2="1184.5" y2="441.87" stroke="#f8f8f8" stroke-width="0.6" />
<line x1="544.2" y1="466.18" x2="1184.5" y2="466.18" stroke="#f8f8f8" stroke-width="0.6" />
<line x1="544.2" y1="490.49" x2="1184.5" y2="490.49" stroke="#f8f8f8" stroke-width="0.6" />
<line x1="544.2" y1="514.79" x2="1184.5" y2="514.79" stroke="#f8f8f8" stroke-width="0.6" />
<line x1="544.2" y1="539.11" x2="1184.5" y2="539.11" stroke="#f8f8f8" stroke-width="0.6" />
<line x1="544.2" y1="563.41" x2="1184.5" y2="563.41" stroke="#f8f8f8" stroke-width="0.6" />
<line x1="544.2" y1="587.73" x2="1184.5" y2="587.73" stroke="#f8f8f8" stroke-width="0.6" />
<line x1="544.2" y1="612.03" x2="1184.5" y2="612.03" stroke="#f8f8f8" stroke-width="0.6" />
<line x1="650.92" y1="391" x2="650.92" y2="636.7" stroke="#f0f0f0" stroke-width="0.7" />
<line x1="757.63" y1="391" x2="757.63" y2="636.7" stroke="#f0f0f0" stroke-width="0.7" />
<line x1="864.35" y1="391" x2="864.35" y2="636.7" stroke="#f0f0f0" stroke-width="0.7" />
<line x1="971.07" y1="391" x2="971.07" y2="636.7" stroke="#f0f0f0" stroke-width="0.7" />
<line x1="1077.78" y1="391" x2="1077.78" y2="636.7" stroke="#f0f0f0" stroke-width="0.7" />
<line x1="1184.5" y1="391" x2="1184.5" y2="636.7" stroke="#f0f0f0" stroke-width="0.7" />
<line x1="544.2" y1="636.7" x2="1184.5" y2="636.7" stroke="#c9c9c9" stroke-width="0.8" />
<rect x="544.2" y="396.7" width="11.74" height="17.4" fill="#2375ae" />
<text x="539.7" y="406.98" font-size="4.4" fill="#777" font-weight="normal" text-anchor="end" >1.01</text>
<rect x="544.2" y="421.01" width="35.57" height="17.4" fill="#69c083" />
<text x="561.99" y="430.91" font-size="5" fill="#333" font-weight="normal" text-anchor="middle" >$100,000</text>
<rect x="579.77" y="421.01" width="12.09" height="17.4" fill="#fbd55d" />
<text x="539.7" y="431.29" font-size="4.4" fill="#777" font-weight="normal" text-anchor="end" >1.02</text>
<rect x="544.2" y="445.32" width="222.33" height="17.4" fill="#2375ae" />
<text x="655.36" y="455.22" font-size="5" fill="#fff" font-weight="normal" text-anchor="middle" >$625,000</text>
<rect x="766.53" y="445.32" width="266.79" height="17.4" fill="#69c083" />
<text x="899.92" y="455.22" font-size="5" fill="#333" font-weight="normal" text-anchor="middle" >$750,000</text>
<rect x="1033.32" y="445.32" width="115.61" height="17.4" fill="#fbd55d" />
<text x="1091.12" y="455.22" font-size="5" fill="#333" font-weight="normal" text-anchor="middle" >$325,000</text>
<text x="539.7" y="455.6" font-size="4.4" fill="#777" font-weight="normal" text-anchor="end" >4.07</text>
<rect x="544.2" y="469.63" width="71.14" height="17.4" fill="#69c083" />
<text x="579.77" y="479.53" font-size="5" fill="#333" font-weight="normal" text-anchor="middle" >$200,000</text>
<text x="539.7" y="479.91" font-size="4.4" fill="#777" font-weight="normal" text-anchor="end" >5.07</text>
<rect x="544.2" y="493.94" width="80.04" height="17.4" fill="#2375ae" />
<text x="584.22" y="503.84" font-size="5" fill="#fff" font-weight="normal" text-anchor="middle" >$225,000</text>
<text x="539.7" y="504.22" font-size="4.4" fill="#777" font-weight="normal" text-anchor="end" >5.1</text>
<rect x="544.2" y="518.25" width="97.82" height="17.4" fill="#2375ae" />
<text x="593.11" y="528.15" font-size="5" fill="#fff" font-weight="normal" text-anchor="middle" >$275,000</text>
<text x="539.7" y="528.53" font-size="4.4" fill="#777" font-weight="normal" text-anchor="end" >5.13</text>
<rect x="544.2" y="542.56" width="160.07" height="17.4" fill="#2375ae" />
<text x="624.24" y="552.46" font-size="5" fill="#fff" font-weight="normal" text-anchor="middle" >$450,000</text>
<text x="539.7" y="552.84" font-size="4.4" fill="#777" font-weight="normal" text-anchor="end" >7.09</text>
<rect x="544.2" y="566.87" width="80.04" height="17.4" fill="#2375ae" />
<text x="584.22" y="576.77" font-size="5" fill="#fff" font-weight="normal" text-anchor="middle" >$225,000</text>
<rect x="624.24" y="566.87" width="136.95" height="17.4" fill="#fbd55d" />
<text x="692.71" y="576.77" font-size="5" fill="#333" font-weight="normal" text-anchor="middle" >$385,000</text>
<text x="539.7" y="577.15" font-size="4.4" fill="#777" font-weight="normal" text-anchor="end" >7.1</text>
<rect x="544.2" y="591.18" width="124.5" height="17.4" fill="#2375ae" />
<text x="606.45" y="601.08" font-size="5" fill="#fff" font-weight="normal" text-anchor="middle" >$350,000</text>
<text x="539.7" y="601.46" font-size="4.4" fill="#777" font-weight="normal" text-anchor="end" >7.14</text>
<rect x="544.2" y="615.49" width="43.4" height="17.4" fill="#69c083" />
<text x="565.9" y="625.39" font-size="5" fill="#333" font-weight="normal" text-anchor="middle" >$122,000</text>
<text x="539.7" y="625.77" font-size="4.4" fill="#777" font-weight="normal" text-anchor="end" >8.06</text>
<clipPath id="c544"><rect x="0" y="0" width="1192.5" height="720"/></clipPath>
<g clip-path="url(#c544)">
<text x="544.2" y="646.43" font-size="4.8" fill="#777" font-weight="normal" text-anchor="middle" >$0</text>
<text x="650.92" y="646.43" font-size="4.8" fill="#777" font-weight="normal" text-anchor="middle" >$300,000</text>
<text x="757.63" y="646.43" font-size="4.8" fill="#777" font-weight="normal" text-anchor="middle" >$600,000</text>
<text x="864.35" y="646.43" font-size="4.8" fill="#777" font-weight="normal" text-anchor="middle" >$900,000</text>
<text x="971.07" y="646.43" font-size="4.8" fill="#777" font-weight="normal" text-anchor="middle" >$1,200,000</text>
<text x="1077.78" y="646.43" font-size="4.8" fill="#777" font-weight="normal" text-anchor="middle" >$1,500,000</text>
<text x="1184.5" y="646.43" font-size="4.8" fill="#777" font-weight="normal" text-anchor="middle" >$1,800,000</text>
</g>
<text x="864.4" y="656.04" font-size="4.56" fill="#666" font-weight="bold" text-anchor="middle" >Actual Risk Impact</text>
<text transform="translate(524.4,515) rotate(-90)" y="1.64" font-size="4.56" fill="#666" font-weight="bold" text-anchor="middle">Risk ID</text>
</svg>
</div>
</body></html>
